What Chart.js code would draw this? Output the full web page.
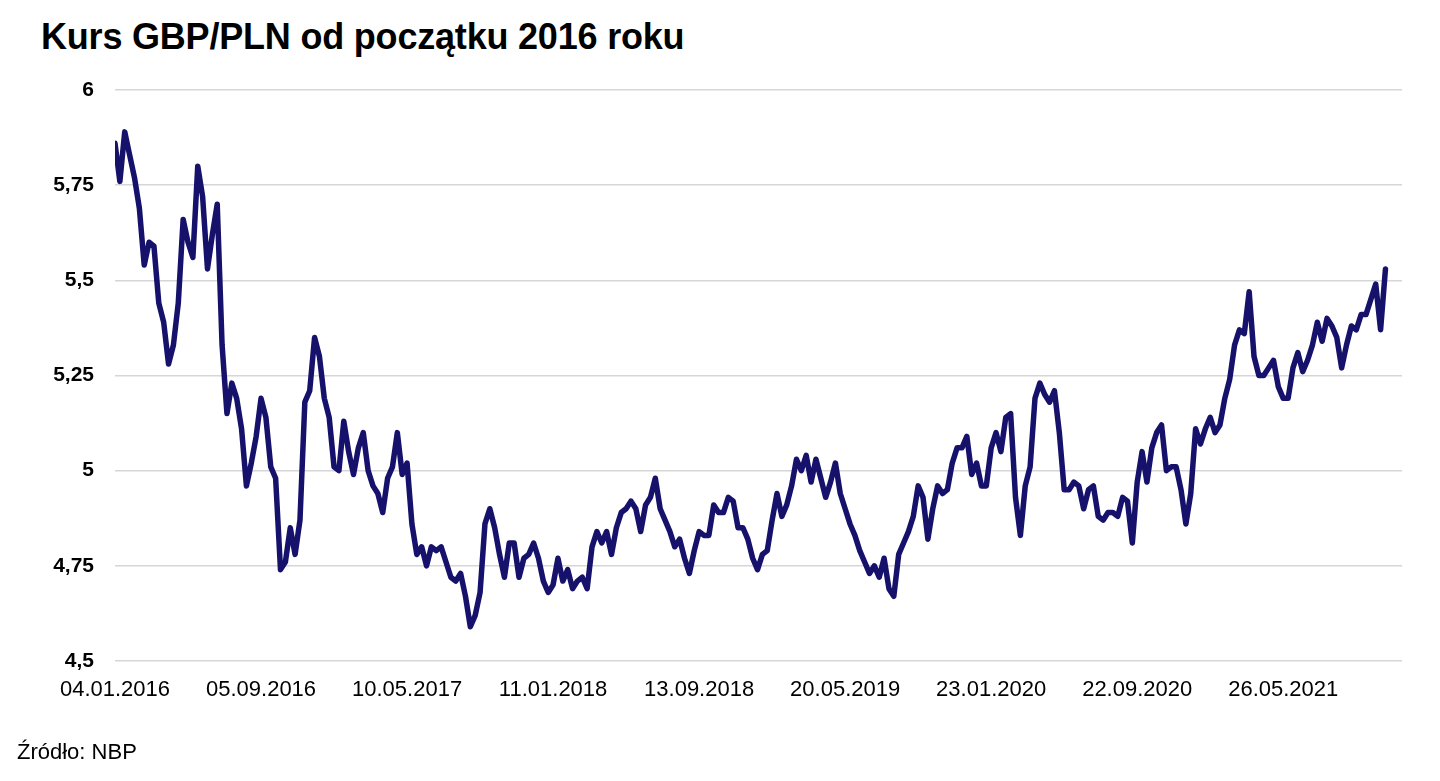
<!DOCTYPE html>
<html lang="pl">
<head>
<meta charset="utf-8">
<title>Kurs GBP/PLN od początku 2016 roku</title>
<script src="https://cdn.jsdelivr.net/npm/chart.js@4.4.1/dist/chart.umd.min.js"></script>
<style>
  html, body { margin: 0; padding: 0; background: #fff; }
  .wrap { position: relative; width: 1440px; height: 781px; overflow: hidden; }
  .title {
    position: absolute; left: 41px; top: 19px;
    font: bold 36px/36px "Liberation Sans", Arial, Helvetica, sans-serif;
    color: #000; letter-spacing: -0.2px;
  }
  .source {
    position: absolute; left: 17px; top: 741px;
    font: 22px/22px "Liberation Sans", Arial, Helvetica, sans-serif;
    color: #000;
  }
  canvas { position: absolute; left: 0; top: 0; }
</style>
</head>
<body>
<div class="wrap">
  <div class="title">Kurs GBP/PLN od początku 2016 roku</div>
  <canvas id="chart" width="1440" height="781"></canvas>
  <div class="source">Źródło: NBP</div>
</div>
<script>
// dates shown under the axis (one every tickStep points)
const tickLabels = [
  '04.01.2016', '05.09.2016', '10.05.2017', '11.01.2018', '13.09.2018',
  '20.05.2019', '23.01.2020', '22.09.2020', '26.05.2021'
];
const tickStep = 30;

// GBP/PLN (roughly every 4th session)
const rates2016 = [
  5.86, 5.76, 5.89, 5.83, 5.77, 5.69, 5.54, 5.60, 5.59, 5.44,
  5.39, 5.28, 5.33, 5.44, 5.66, 5.60, 5.56, 5.80, 5.72, 5.53,
  5.62, 5.70, 5.33, 5.15, 5.23, 5.19, 5.11, 4.96, 5.02, 5.09,
  5.19, 5.14, 5.01, 4.98, 4.74, 4.76, 4.85, 4.78, 4.87, 5.18,
  5.21, 5.35, 5.30, 5.19, 5.14
];
const rates2017 = [
  5.01, 5.00, 5.13, 5.05, 4.99, 5.06, 5.10, 5.00, 4.96, 4.94,
  4.89, 4.98, 5.01, 5.10, 4.99, 5.02, 4.86, 4.78, 4.80, 4.75,
  4.80, 4.79, 4.80, 4.76, 4.72, 4.71, 4.73, 4.67, 4.59, 4.62,
  4.68, 4.86, 4.90, 4.85, 4.78, 4.72, 4.81, 4.81, 4.72, 4.77,
  4.78, 4.81, 4.77, 4.71, 4.68
];
const rates2018 = [
  4.70, 4.77, 4.71, 4.74, 4.69, 4.71, 4.72, 4.69, 4.80, 4.84,
  4.81, 4.84, 4.78, 4.85, 4.89, 4.90, 4.92, 4.90, 4.84, 4.91,
  4.93, 4.98, 4.90, 4.87, 4.84, 4.80, 4.82, 4.77, 4.73, 4.79,
  4.84, 4.83, 4.83, 4.91, 4.89, 4.89, 4.93, 4.92, 4.85, 4.85,
  4.82, 4.77, 4.74, 4.78
];
const rates2019 = [
  4.79, 4.87, 4.94, 4.88, 4.91, 4.96, 5.03, 5.00, 5.04, 4.97,
  5.03, 4.98, 4.93, 4.97, 5.02, 4.94, 4.90, 4.86, 4.83, 4.79,
  4.76, 4.73, 4.75, 4.72, 4.77, 4.69, 4.67, 4.78, 4.81, 4.84,
  4.88, 4.96, 4.93, 4.82, 4.90, 4.96, 4.94, 4.95, 5.02, 5.06,
  5.06, 5.09, 4.99, 5.02, 4.96, 4.96
];
const rates2020 = [
  5.06, 5.10, 5.05, 5.14, 5.15, 4.93, 4.83, 4.96, 5.01, 5.19,
  5.23, 5.20, 5.18, 5.21, 5.10, 4.95, 4.95, 4.97, 4.96, 4.90,
  4.95, 4.96, 4.88, 4.87, 4.89, 4.89, 4.88, 4.93, 4.92, 4.81,
  4.97, 5.05, 4.97, 5.06, 5.10, 5.12, 5.00, 5.01, 5.01, 4.95,
  4.86, 4.94, 5.11, 5.07, 5.11
];
const rates2021 = [
  5.14, 5.10, 5.12, 5.19, 5.24, 5.33, 5.37, 5.36, 5.47, 5.30,
  5.25, 5.25, 5.27, 5.29, 5.22, 5.19, 5.19, 5.27, 5.31, 5.26,
  5.29, 5.33, 5.39, 5.34, 5.40, 5.38, 5.35, 5.27, 5.33, 5.38,
  5.37, 5.41, 5.41, 5.45, 5.49, 5.37, 5.53
];

const rates = [].concat(rates2016, rates2017, rates2018, rates2019, rates2020, rates2021);
const points = rates.map((v, i) => ({ x: i, y: v }));

const FONT = '"Liberation Sans", Arial, Helvetica, sans-serif';

new Chart(document.getElementById('chart'), {
  type: 'line',
  data: {
    datasets: [{
      data: points,
      borderColor: '#16116a',
      borderWidth: 5.5,
      pointRadius: 0,
      tension: 0,
      borderJoinStyle: 'round',
      borderCapStyle: 'round'
    }]
  },
  options: {
    responsive: false,
    animation: false,
    devicePixelRatio: 1,
    layout: { padding: { top: 90, right: 38, bottom: 58, left: 0 } },
    plugins: {
      legend: { display: false },
      tooltip: { enabled: false },
      title: { display: false }
    },
    scales: {
      x: {
        type: 'linear',
        min: 0,
        max: 264.4,
        grid: { display: false, drawTicks: false },
        border: { display: false },
        ticks: {
          stepSize: tickStep,
          includeBounds: false,
          autoSkip: false,
          maxRotation: 0,
          minRotation: 0,
          padding: 16,
          color: '#000',
          font: { family: FONT, size: 22 },
          callback: (v) => {
            const k = v / tickStep;
            return Number.isInteger(k) && k < tickLabels.length ? tickLabels[k] : null;
          }
        },
        afterFit: (scale) => { scale.height = 62; }
      },
      y: {
        min: 4.5,
        max: 6,
        grid: { color: '#d6d6d6', lineWidth: 1.5, drawTicks: false },
        border: { display: false },
        ticks: {
          stepSize: 0.25,
          padding: 21,
          color: '#000',
          font: { family: FONT, size: 21, weight: 'bold' },
          callback: (v) => String(v).replace('.', ',')
        },
        afterFit: (scale) => { scale.width = 115; }
      }
    }
  }
});
</script>
</body>
</html>
